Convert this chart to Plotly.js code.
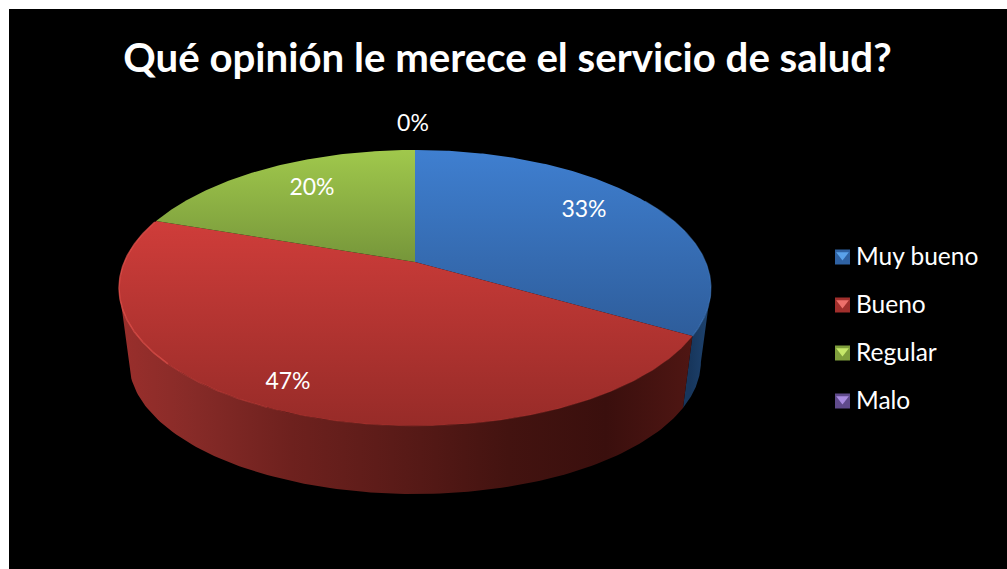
<!DOCTYPE html>
<html><head><meta charset="utf-8">
<script src="https://cdn.plot.ly/plotly-3.0.1.min.js"></script>
<style>html,body{margin:0;padding:0;background:#fff}#c{width:1007px;height:569px}</style>
</head><body><div id="c"></div>
<script>
// Data
const categories = ["Muy bueno", "Bueno", "Regular", "Malo"];
const shares = [33.4, 46.9, 19.7, 0];
const titleText = "Qué opinión le merece el servicio de salud?";

// Styles
const FONT = "Lato, Carlito, 'Open Sans', sans-serif";
const topStops = [["#3f7fd0", "#2e5d9b"], ["#cf3d3a", "#972b28"], ["#a0c84c", "#76963a"]];
const legendBase = ["#2f62a3", "#a12f2c", "#7f9f3c", "#5f4a8b"];
const legendLight = ["#5aa2ea", "#ee6f6a", "#c6e86a", "#a98be0"];
const labelPos = [[584, 211], [288, 383], [312, 189], [413, 125]];
const legendX = 842.5, legendY = [257, 305, 353, 401];

// Projection of the tilted disc
const CX = 415, CY = 288, RY = 138, K = 290.7, C = -0.188, APEX = -26;
const BOT_Y = 362, BOT_SX = 0.966, BOT_SY = 0.957;
function topPt(deg) {
  const t = deg * Math.PI / 180, u = Math.sin(t), v = -Math.cos(t), d = 1 + C * v;
  return [K * u / d, (RY * v + APEX) / d];
}
function arc(a, b, n) {
  const r = [];
  for (let i = 0; i <= n; i++) r.push(a + (b - a) * i / n);
  return r;
}
const traces = [];
const total = shares.reduce((s, v) => s + v, 0);
let acc = 0;
const bounds = shares.map(v => { const a = acc; acc += v; return [a / total * 360, acc / total * 360]; });
const sideL = 100.83, sideH = 259.17;

// side walls
function side(a, b, scale, x0, x1) {
  const fw = arc(a, b, 120), xs = [], ys = [];
  fw.forEach(d => { const p = topPt(d); xs.push(CX + p[0]); ys.push(CY + p[1]); });
  fw.slice().reverse().forEach(d => { const p = topPt(d); xs.push(CX + p[0] * BOT_SX); ys.push(BOT_Y + p[1] * BOT_SY); });
  xs.push(xs[0]); ys.push(ys[0]);
  traces.push({x: xs, y: ys, mode: "lines", line: {width: 0}, fill: "toself", hoverinfo: "skip", showlegend: false,
    fillgradient: {type: "horizontal", start: x0, stop: x1, colorscale: scale}});
}
side(sideL, bounds[0][1], [[0, "#17365c"], [1, "#1f4470"]], 690, 711);
side(bounds[0][1], sideH, [[0, "#9a2f2c"], [0.12, "#882b28"], [0.3, "#6e211e"], [0.45, "#5e1c19"], [0.68, "#431310"], [0.85, "#3a0f0d"], [1, "#4f1613"]], 119, 692);

// top slices
shares.forEach((v, i) => {
  if (!v) return;
  const [a, b] = bounds[i], n = Math.ceil((b - a) * 2), xs = [CX], ys = [CY + APEX];
  arc(a, b, n).forEach(d => { const p = topPt(d); xs.push(CX + p[0]); ys.push(CY + p[1]); });
  xs.push(CX); ys.push(CY + APEX);
  traces.push({x: xs, y: ys, name: categories[i], mode: "lines", line: {width: 0}, fill: "toself", hoverinfo: "name", showlegend: false,
    fillgradient: {type: "vertical", start: Math.min(...ys), stop: Math.max(...ys),
      colorscale: [[0, topStops[i][0]], [1, topStops[i][1]]]}});
});
// rim highlights
const rim = (a, b, col, w) => {
  const xs = [], ys = [];
  arc(a, b, 200).forEach(d => { const p = topPt(d); xs.push(CX + p[0]); ys.push(CY + p[1]); });
  traces.push({x: xs, y: ys, mode: "lines", line: {color: col, width: w}, hoverinfo: "skip", showlegend: false});
};
rim(bounds[1][0] + 0.5, 205, "rgba(190,58,54,0.3)", 1);
rim(205, 228, "rgba(215,70,66,0.45)", 1.2);
rim(228, bounds[1][1] - 0.5, "rgba(232,84,78,0.7)", 1.5);
rim(60, bounds[0][1], "rgba(72,132,205,0.5)", 1.2);

// legend
categories.forEach((c, i) => {
  traces.push({x: [legendX], y: [legendY[i]], mode: "markers", showlegend: false, hoverinfo: "skip",
    marker: {symbol: "square", size: 15, color: legendBase[i]}});
  traces.push({x: [legendX], y: [legendY[i] - 2], mode: "markers", showlegend: false, hoverinfo: "skip",
    marker: {symbol: "triangle-down", size: 11, color: legendLight[i]}});
  traces.push({x: [856], y: [legendY[i] + 1.5], mode: "text", name: c, text: [c], textposition: "middle right", showlegend: false,
    hoverinfo: "name", textfont: {family: FONT, size: 24.5, color: "#fff"}});
});
// percentage labels
shares.forEach((v, i) => {
  traces.push({x: [labelPos[i][0]], y: [labelPos[i][1]], mode: "text", text: [Math.round(v) + "%"], textposition: "middle center", showlegend: false,
    hoverinfo: "skip", textfont: {family: FONT, size: 23, color: "#fff"}});
});

const layout = {
  width: 1007, height: 569, autosize: false, showlegend: false,
  paper_bgcolor: "#fff", plot_bgcolor: "#000",
  margin: {l: 9, r: 0, t: 9, b: 0, pad: 0},
  xaxis: {range: [9, 1007], visible: false, fixedrange: true},
  yaxis: {range: [569, 9], visible: false, fixedrange: true},
  title: {text: "<b>" + titleText + "</b>", x: 0.4995, xanchor: "center", xref: "paper",
    y: 1 - 58 / 569, yanchor: "middle", yref: "container", font: {family: FONT, size: 40.2, color: "#fff"}}
};
Plotly.newPlot("c", traces, layout, {displayModeBar: false, staticPlot: true});
</script></body></html>
